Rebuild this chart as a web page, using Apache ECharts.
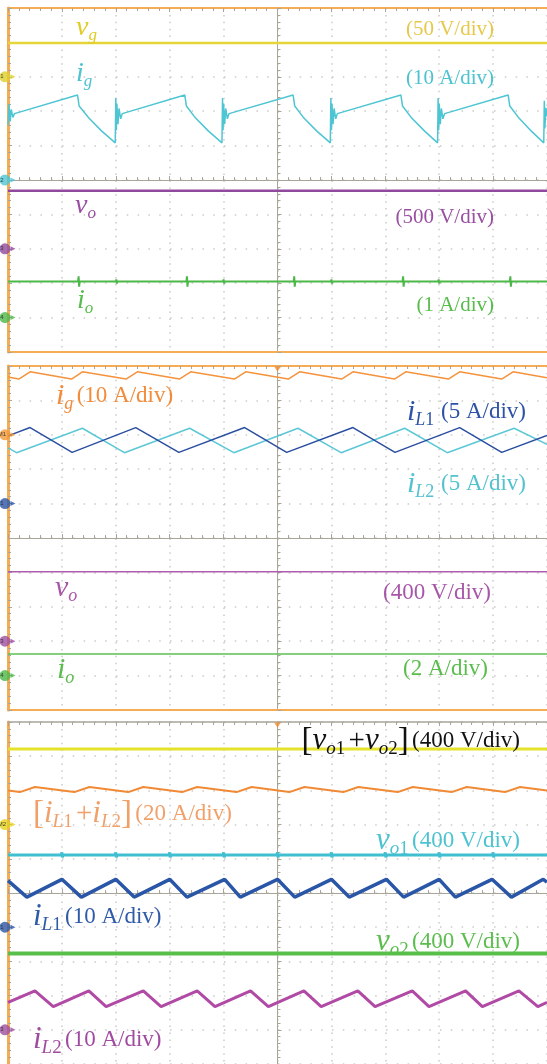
<!DOCTYPE html>
<html>
<head>
<meta charset="utf-8">
<script src="https://cdn.jsdelivr.net/npm/echarts@6/dist/echarts.min.js"></script>
<style>
  html, body { margin: 0; padding: 0; background: #fff; }
  #chart { width: 547px; height: 1064px; }
</style>
</head>
<body>
<div id="chart"></div>
<script>
// scope screens: x = time divisions from trigger (centre), y = divisions from centre line

// ---- screen 1 ----
const p1Vg = [[-5, 3.98], [5, 3.98]];
const p1Ig = [
  [-5.0, 1.6], [-4.98, 2.2], [-4.96, 1.7], [-4.94, 2.05], [-4.91, 1.82], [-4.88, 1.93],
  [-3.71, 2.47], [-3.68, 2.15], [-3.5, 1.8], [-3.26, 1.42], [-3.01, 1.08],
  [-3.0, 2.38], [-2.99, 1.45], [-2.98, 2.22], [-2.96, 1.62], [-2.94, 2.08], [-2.91, 1.78], [-2.88, 1.93],
  [-1.72, 2.47], [-1.69, 2.15], [-1.52, 1.8], [-1.28, 1.42], [-1.03, 1.08],
  [-1.02, 2.38], [-1.01, 1.45], [-1.0, 2.22], [-0.98, 1.62], [-0.96, 2.08], [-0.93, 1.78], [-0.9, 1.93],
  [0.29, 2.47], [0.32, 2.15], [0.49, 1.8], [0.73, 1.42], [0.98, 1.08],
  [0.99, 2.38], [1.0, 1.45], [1.01, 2.22], [1.03, 1.62], [1.05, 2.08], [1.08, 1.78], [1.11, 1.93],
  [2.29, 2.47], [2.32, 2.15], [2.49, 1.8], [2.73, 1.42], [2.97, 1.08],
  [2.98, 2.38], [2.99, 1.45], [3.0, 2.22], [3.02, 1.62], [3.04, 2.08], [3.07, 1.78], [3.1, 1.93],
  [4.28, 2.47], [4.31, 2.15], [4.48, 1.8], [4.71, 1.42], [4.94, 1.08],
  [4.95, 2.3], [4.96, 1.5], [4.98, 2.1], [5.0, 1.85]
];
const p1Vo = [[-5, -0.31], [5, -0.31]];
const p1Io = [
  [-5, -2.95], [-3.7, -2.95], [-3.69, -2.8], [-3.68, -3.1], [-3.67, -2.95],
  [-3.0, -2.95], [-2.99, -2.89], [-2.98, -3.01], [-2.97, -2.95],
  [-1.69, -2.95], [-1.68, -2.8], [-1.67, -3.1], [-1.66, -2.95],
  [-1.01, -2.95], [-1.0, -2.89], [-0.99, -3.01], [-0.98, -2.95],
  [0.3, -2.95], [0.31, -2.8], [0.32, -3.1], [0.33, -2.95],
  [0.99, -2.95], [1.0, -2.89], [1.01, -3.01], [1.02, -2.95],
  [2.32, -2.95], [2.33, -2.8], [2.34, -3.1], [2.35, -2.95],
  [2.98, -2.95], [2.99, -2.89], [3.0, -3.01], [3.01, -2.95],
  [4.31, -2.95], [4.32, -2.8], [4.33, -3.1], [4.34, -2.95], [5, -2.95]
];

// ---- screen 2 ----
const p2Ig = [
  [-5, 4.68], [-4.80, 4.62], [-4.59, 4.83], [-3.82, 4.62], [-3.62, 4.83], [-2.81, 4.62],
  [-2.60, 4.83], [-1.82, 4.62], [-1.61, 4.83], [-0.80, 4.62], [-0.59, 4.83], [0.20, 4.62],
  [0.41, 4.83], [1.19, 4.62], [1.40, 4.83], [2.17, 4.62], [2.38, 4.83], [3.17, 4.62],
  [3.38, 4.83], [4.16, 4.62], [4.37, 4.83], [5, 4.66]
];
const p2IL1 = [
  [-5, 2.97], [-4.59, 3.21], [-3.81, 2.49], [-2.63, 3.21], [-1.83, 2.49], [-0.61, 3.21],
  [0.17, 2.49], [1.40, 3.21], [2.18, 2.49], [3.38, 3.21], [4.16, 2.49], [5, 2.98]
];
const p2IL2 = [
  [-5, 2.62], [-4.84, 2.48], [-3.62, 3.19], [-2.84, 2.48], [-1.63, 3.19], [-0.81, 2.48],
  [0.38, 3.19], [1.18, 2.48], [2.36, 3.19], [3.15, 2.48], [4.39, 3.19], [5, 2.72]
];
const p2Vo = [[-5, -0.98], [5, -0.98]];
const p2Io = [[-5, -3.37], [5, -3.37]];

// ---- screen 3 ----
const p3VoSum = [[-5, 4.21], [5, 4.21]];
const p3ILSum = [
  [-5, 3.0], [-4.78, 2.95], [-4.50, 3.10], [-3.77, 2.95], [-3.49, 3.10], [-2.77, 2.95],
  [-2.49, 3.10], [-1.77, 2.95], [-1.49, 3.10], [-0.76, 2.95], [-0.48, 3.10], [0.22, 2.95],
  [0.50, 3.10], [1.22, 2.95], [1.50, 3.10], [2.23, 2.95], [2.51, 3.10], [3.23, 2.95],
  [3.51, 3.10], [4.22, 2.95], [4.50, 3.10], [5, 3.0]
];
const p3Vo1 = [
  [-5, 1.11], [-4.01, 1.11], [-4.0, 1.19], [-3.99, 1.04], [-3.98, 1.11],
  [-3.01, 1.11], [-3.0, 1.19], [-2.99, 1.04], [-2.98, 1.11],
  [-2.01, 1.11], [-2.0, 1.19], [-1.99, 1.04], [-1.98, 1.11],
  [-1.01, 1.11], [-1.0, 1.19], [-0.99, 1.04], [-0.98, 1.11],
  [-0.01, 1.11], [0.0, 1.19], [0.01, 1.04], [0.02, 1.11],
  [0.99, 1.11], [1.0, 1.19], [1.01, 1.04], [1.02, 1.11],
  [1.99, 1.11], [2.0, 1.19], [2.01, 1.04], [2.02, 1.11],
  [2.99, 1.11], [3.0, 1.19], [3.01, 1.04], [3.02, 1.11],
  [3.99, 1.11], [4.0, 1.19], [4.01, 1.04], [4.02, 1.11], [5, 1.11]
];
const p3IL1 = [
  [-5, 0.36], [-4.65, -0.12], [-4.0, 0.40], [-3.64, -0.12], [-3.0, 0.40], [-2.66, -0.12],
  [-2.0, 0.40], [-1.68, -0.12], [-0.98, 0.40], [-0.69, -0.12], [0.0, 0.40], [0.32, -0.12],
  [1.0, 0.40], [1.33, -0.12], [2.02, 0.40], [2.34, -0.12], [3.0, 0.40], [3.30, -0.12],
  [3.98, 0.40], [4.34, -0.12], [4.93, 0.40], [5, 0.32]
];
const p3Vo2 = [[-5, -1.77], [5, -1.77]];
const p3IL2 = [
  [-5, -3.20], [-4.50, -2.86], [-4.16, -3.32], [-3.50, -2.86], [-3.18, -3.32], [-2.49, -2.86],
  [-2.16, -3.32], [-1.49, -2.86], [-1.16, -3.32], [-0.50, -2.86], [-0.17, -3.32], [0.49, -2.86],
  [0.81, -3.32], [1.49, -2.86], [1.81, -3.32], [2.50, -2.86], [2.81, -3.32], [3.49, -2.86],
  [3.80, -3.32], [4.48, -2.86], [4.83, -3.32], [5, -3.2]
];

// channel reference markers on the left edge
const markerNames = [['1', '2', '3', '4'], ['M1', '1', '3', '4'], ['M2', '1', '3']];
const markerLevels = [[3, 0, -2, -4], [3, 1, -3, -4], [2, -1, -4]];

const BORDER = '#f6ab55';
const RULE = '#a9a699';
const DOTS = '#cacaca';
const SERIF = '"Liberation Serif", "DejaVu Serif", serif';

const markerColors = [
  ['#ddd02a', '#4ec5d3', '#8f4a9c', '#4cb848'],
  ['#f29a3a', '#2b55a6', '#9c4f9f', '#4cb848'],
  ['#e3d21c', '#2b55a6', '#9c4f9f']
];

const gridTops = [8, 366, 722];
const grids = [];
const xAxes = [];
const yAxes = [];
const series = [];

function edgeTicks() {
  return {
    axisTick: { show: true, inside: true, length: 4, lineStyle: { color: RULE } },
    minorTick: { show: true, splitNumber: 5, length: 3, lineStyle: { color: RULE } },
    axisLabel: { show: false }, splitLine: { show: false }
  };
}

gridTops.forEach((top, g) => {
  grids.push({ left: 8, top: top, width: 542, height: 344 });
  // centre rulers + dotted graticule
  xAxes.push({
    gridIndex: g, type: 'value', min: -5, max: 5, interval: 1,
    axisLine: { onZero: true, lineStyle: { color: RULE, width: 1 } },
    axisTick: { show: true, inside: true, length: 4, lineStyle: { color: RULE } },
    minorTick: { show: true, splitNumber: 5, length: 3, lineStyle: { color: RULE } },
    axisLabel: { show: false },
    splitLine: { show: true, lineStyle: { color: DOTS, width: 1.5, type: [1.5, 5.4] } }
  });
  yAxes.push({
    gridIndex: g, type: 'value', min: -5, max: 5, interval: 1,
    axisLine: { onZero: true, lineStyle: { color: RULE, width: 1 } },
    axisTick: { show: true, inside: true, length: 4, lineStyle: { color: RULE } },
    minorTick: { show: true, splitNumber: 5, length: 3, lineStyle: { color: RULE } },
    axisLabel: { show: false },
    splitLine: { show: true, lineStyle: { color: DOTS, width: 1.5, type: [1.5, 9.3] } }
  });
  // frame edges
  xAxes.push(Object.assign({
    gridIndex: g, type: 'value', min: -5, max: 5, interval: 1, position: 'top',
    axisLine: { onZero: false, lineStyle: { color: g < 2 ? BORDER : RULE, width: g < 2 ? 2 : 1.5 } }
  }, edgeTicks()));
  yAxes.push(Object.assign({
    gridIndex: g, type: 'value', min: -5, max: 5, interval: 1, position: 'left',
    axisLine: { onZero: false, lineStyle: { color: BORDER, width: 3 } }
  }, edgeTicks()));
  if (g < 2) {
    xAxes.push(Object.assign({
      gridIndex: g, type: 'value', min: -5, max: 5, interval: 1, position: 'bottom',
      axisLine: { onZero: false, lineStyle: { color: BORDER, width: 2 } }
    }, edgeTicks(), { axisTick: { show: false }, minorTick: { show: false } }));
  }
});

// axis indices: x = [0,1,2 | 3,4,5 | 6,7], y = [0,1 | 2,3 | 4,5]
const xMain = [0, 3, 6];
const yMain = [0, 2, 4];

gridTops.forEach((top, g) => {
  series.push({
    type: 'scatter', xAxisIndex: xMain[g], yAxisIndex: yMain[g], z: 10, silent: true,
    symbol: 'circle', symbolSize: 11, symbolOffset: [-3, 0],
    data: markerLevels[g].map((v, i) => ({
      value: [-5, v], name: markerNames[g][i], itemStyle: { color: markerColors[g][i] }
    })),
    label: { show: true, position: 'inside', formatter: '{b}', fontSize: 6, color: '#222', offset: [-3, 0] }
  });
  series.push({
    type: 'scatter', xAxisIndex: xMain[g], yAxisIndex: yMain[g], z: 10, silent: true,
    symbol: 'triangle', symbolSize: [5, 5], symbolRotate: -90, symbolOffset: [5, 0],
    data: markerLevels[g].map((v, i) => ({ value: [-5, v], itemStyle: { color: markerColors[g][i] } }))
  });
  if (g > 0) {
    series.push({
      type: 'scatter', xAxisIndex: xMain[g], yAxisIndex: yMain[g], z: 10, silent: true,
      symbol: 'triangle', symbolSize: [7, 5], symbolRotate: 180, symbolOffset: [0, 3],
      data: [[0, 5]], itemStyle: { color: '#f28a2a' }
    });
  }
});

function wave(g, data, color, width) {
  return {
    type: 'line', xAxisIndex: xMain[g], yAxisIndex: yMain[g], data: data,
    showSymbol: false, symbol: 'none', silent: true, z: 3,
    lineStyle: { color: color, width: width }
  };
}

series.push(
  wave(0, p1Vg, '#e5d538', 2.5),
  wave(0, p1Ig, '#4ec5d3', 1.5),
  wave(0, p1Vo, '#8f4a9e', 2.5),
  wave(0, p1Io, '#4cb848', 2),
  wave(1, p2Ig, '#f5923c', 1.5),
  wave(1, p2IL2, '#5cc8d6', 1.5),
  wave(1, p2IL1, '#2b4fa0', 1.5),
  wave(1, p2Vo, '#ac5dab', 1.5),
  wave(1, p2Io, '#5cc050', 1.5),
  wave(2, p3VoSum, '#e4e22c', 3),
  wave(2, p3ILSum, '#f08a35', 2),
  wave(2, p3Vo1, '#3fbfd0', 3),
  wave(2, p3IL1, '#2a56a8', 3.5),
  wave(2, p3Vo2, '#58c04a', 4),
  wave(2, p3IL2, '#b04aa5', 3)
);

function rich(m, s, u) {
  return {
    m: { fontFamily: SERIF, fontStyle: 'italic', fontSize: m, lineHeight: m + 4 },
    s: { fontFamily: SERIF, fontStyle: 'italic', fontSize: s, lineHeight: s, verticalAlign: 'bottom' },
    n: { fontFamily: SERIF, fontSize: s, lineHeight: s, verticalAlign: 'bottom' },
    u: { fontFamily: SERIF, fontSize: u, lineHeight: m + 4 },
    b: { fontFamily: SERIF, fontSize: m + 2, lineHeight: m + 4 },
    p: { fontFamily: SERIF, fontSize: u + 6, lineHeight: m + 4 }
  };
}

function label(x, y, text, color, align, sizes) {
  return {
    type: 'text', x: x, y: y, z: 50, silent: true,
    style: {
      text: text, fill: color, align: align, verticalAlign: 'middle',
      rich: rich(sizes[0], sizes[1], sizes[2])
    }
  };
}

const S1 = [28, 17, 21];
const S2 = [30, 18, 23];
const S3 = [31, 19, 23];

const graphics = [
  label(76, 28, '{m|v}{s|g}', '#e0cc22', 'left', S1),
  label(494, 29, '{u|(50 V/div)}', '#e6c84a', 'right', S1),
  label(76, 74, '{m|i}{s|g}', '#4cc3d1', 'left', S1),
  label(494, 78, '{u|(10 A/div)}', '#4cc3d1', 'right', S1),
  label(75, 206, '{m|v}{s|o}', '#9a4ea2', 'left', S1),
  label(494, 217, '{u|(500 V/div)}', '#9a4ea2', 'right', S1),
  label(77, 301, '{m|i}{s|o}', '#57bd4a', 'left', S1),
  label(494, 305, '{u|(1 A/div)}', '#57bd4a', 'right', S1),

  label(56, 396, '{m|i}{s|g} {u|(10 A/div)}', '#f28b3a', 'left', S2),
  label(526, 412, '{m|i}{s|L}{n|1}  {u|(5 A/div)}', '#2d53a6', 'right', S2),
  label(526, 484, '{m|i}{s|L}{n|2}  {u|(5 A/div)}', '#52c2d0', 'right', S2),
  label(55, 588, '{m|v}{s|o}', '#a657a8', 'left', S2),
  label(491, 593, '{u|(400 V/div)}', '#a657a8', 'right', S2),
  label(57, 670, '{m|i}{s|o}', '#5bbd4d', 'left', S2),
  label(488, 669, '{u|(2 A/div)}', '#5bbd4d', 'right', S2),

  label(520, 741, '{b|[}{m|v}{s|o}{n|1} {p|+}{m|v}{s|o}{n|2}{b|]} {u|(400 V/div)}', '#111111', 'right', S3),
  label(33, 814, '{b|[}{m|i}{s|L}{n|1} {p|+}{m|i}{s|L}{n|2}{b|]} {u|(20 A/div)}', '#f2a06a', 'left', S3),
  label(520, 841, '{m|v}{s|o}{n|1} {u|(400 V/div)}', '#4cc3d1', 'right', S3),
  label(33, 917, '{m|i}{s|L}{n|1} {u|(10 A/div)}', '#2f5aa8', 'left', S3),
  label(520, 942, '{m|v}{s|o}{n|2} {u|(400 V/div)}', '#5bbd4d', 'right', S3),
  label(33, 1040, '{m|i}{s|L}{n|2} {u|(10 A/div)}', '#a04aa0', 'left', S3)
];

const chart = echarts.init(document.getElementById('chart'));
chart.setOption({
  animation: false,
  backgroundColor: '#ffffff',
  grid: grids,
  xAxis: xAxes,
  yAxis: yAxes,
  series: series,
  graphic: graphics
});
</script>
</body>
</html>
